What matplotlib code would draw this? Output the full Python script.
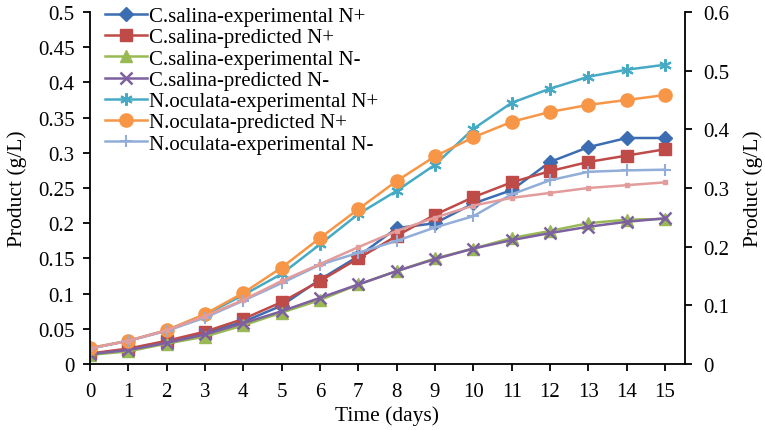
import numpy as np
import matplotlib
matplotlib.use('Agg')
import matplotlib.pyplot as plt
from matplotlib.ticker import FuncFormatter

plt.rcParams['font.family'] = ['Liberation Serif', 'DejaVu Serif']

days = list(range(16))

cs_exp_np = [0.014, 0.020, 0.031, 0.044, 0.060, 0.083, 0.120, 0.153,
             0.193, 0.200, 0.228, 0.247, 0.287, 0.308, 0.321, 0.321]
cs_pred_np = [0.015, 0.022, 0.033, 0.046, 0.064, 0.088, 0.118, 0.150,
              0.182, 0.212, 0.237, 0.258, 0.274, 0.287, 0.296, 0.305]
cs_exp_nm = [0.013, 0.018, 0.029, 0.039, 0.055, 0.073, 0.091, 0.113,
             0.132, 0.150, 0.164, 0.179, 0.189, 0.200, 0.205, 0.206]
cs_pred_nm = [0.014, 0.020, 0.030, 0.042, 0.058, 0.075, 0.094, 0.113,
              0.132, 0.149, 0.164, 0.176, 0.186, 0.195, 0.202, 0.207]
no_exp_np = [0.022, 0.033, 0.048, 0.070, 0.098, 0.128, 0.170, 0.213,
             0.246, 0.283, 0.334, 0.371, 0.391, 0.408, 0.418, 0.425]
no_pred_np = [0.023, 0.033, 0.048, 0.071, 0.101, 0.137, 0.179, 0.220,
              0.260, 0.295, 0.322, 0.344, 0.358, 0.368, 0.375, 0.382]
no_exp_nm = [0.022, 0.033, 0.047, 0.066, 0.090, 0.115, 0.141, 0.158,
             0.175, 0.194, 0.210, 0.241, 0.261, 0.273, 0.275, 0.276]
no_pred_nm = [0.022, 0.033, 0.048, 0.068, 0.091, 0.118, 0.142, 0.166,
              0.189, 0.208, 0.225, 0.236, 0.243, 0.250, 0.254, 0.258]

fig = plt.figure(figsize=(7.65, 4.31), dpi=100)
ax = fig.add_axes([0.1176, 0.153, 0.7778, 0.817])

ax.plot(days, cs_exp_np, color='#3C6DB3', marker='D', ms=7, lw=1.8,
        label='C.salina-experimental N+')
ax.plot(days, cs_pred_np, color='#BE4B48', marker='s', ms=8.5, lw=1.8,
        label='C.salina-predicted N+')
ax.plot(days, cs_exp_nm, color='#98B954', marker='^', ms=8.5, lw=1.8,
        label='C.salina-experimental N-')
ax.plot(days, cs_pred_nm, color='#7D60A0', marker='x', ms=8, mew=1.8, lw=1.8,
        label='C.salina-predicted N-')
ax.plot(days, no_exp_np, color='#46AAC5', marker=(6, 2, 0), ms=9, mew=1.5, lw=1.8,
        label='N.oculata-experimental N+')
ax.plot(days, no_pred_np, color='#F79646', marker='o', ms=9.5, lw=1.8,
        label='N.oculata-predicted N+')
ax.plot(days, no_exp_nm, color='#91ADD8', marker='+', ms=9, mew=1.5, lw=1.8,
        label='N.oculata-experimental N-')
ax.plot(days, no_pred_nm, color='#E29C9B', marker='s', ms=3.5, lw=1.8)

ax.set_xlim(0, 15.52)
ax.set_ylim(0, 0.5)
ax.set_xticks(days)
ax.set_yticks(np.arange(0, 0.501, 0.05))
fmt = FuncFormatter(lambda v, p: '%g' % round(v, 3))
ax.yaxis.set_major_formatter(fmt)
ax.spines['top'].set_visible(False)
ax.spines['right'].set_visible(False)
for s in ('left', 'bottom'):
    ax.spines[s].set_linewidth(1.3)
ax.tick_params(axis='both', direction='out', length=5, width=1.3, labelsize=15)
ax.tick_params(axis='y', pad=6)
ax.tick_params(axis='x', pad=8)
ax.set_xlabel('Time (days)', fontsize=15.5, labelpad=3)
ax.set_ylabel('Product (g/L)', fontsize=15.5, labelpad=8)

ax2 = ax.twinx()
ax2.set_ylim(0, 0.6)
ax2.set_yticks(np.arange(0, 0.601, 0.1))
ax2.yaxis.set_major_formatter(fmt)
ax2.spines['top'].set_visible(False)
ax2.spines['left'].set_visible(False)
ax2.spines['bottom'].set_visible(False)
ax2.spines['right'].set_linewidth(1.3)
ax2.tick_params(axis='y', direction='out', length=5, width=1.3, labelsize=15, pad=8)
ax2.set_ylabel('Product (g/L)', fontsize=15.5, labelpad=10)

leg = ax.legend(loc='upper left', bbox_to_anchor=(0.025, 1.015), frameon=False,
                fontsize=15, handlelength=2.0, handletextpad=0.1,
                labelspacing=0.08, borderaxespad=0, borderpad=0)

fig.savefig('out.png', dpi=100)
